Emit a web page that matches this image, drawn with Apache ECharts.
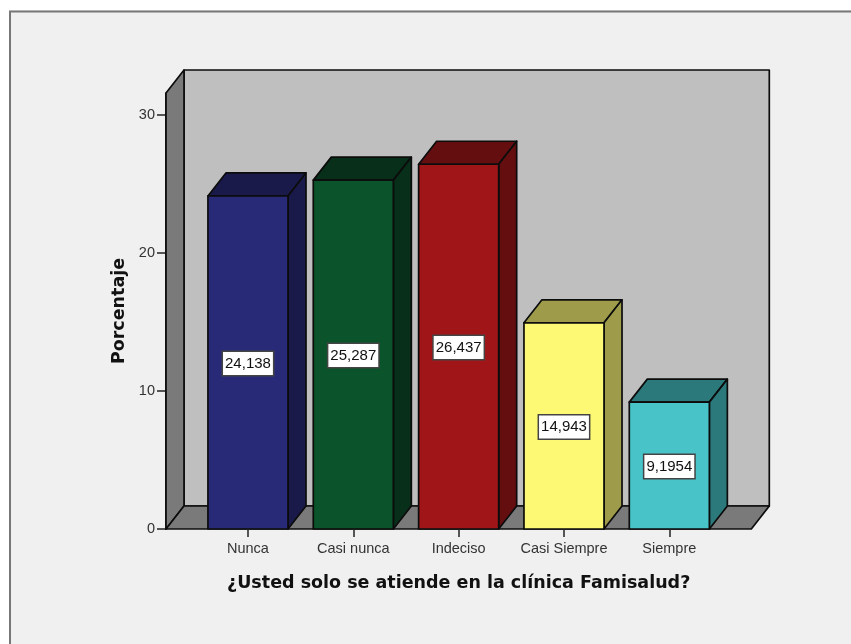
<!DOCTYPE html>
<html>
<head>
<meta charset="utf-8">
<style>html,body{margin:0;padding:0;background:#fff}#chart{width:851px;height:644px}</style>
<script src="https://cdn.jsdelivr.net/npm/echarts@6/dist/echarts.min.js"></script>
</head>
<body>
<div id="chart"></div>
<script>
const categories = ['Nunca', 'Casi nunca', 'Indeciso', 'Casi Siempre', 'Siempre'];
const percentages = [24.138, 25.287, 26.437, 14.943, 9.1954];
const faceColors = ['#292a77', '#0b532b', '#a01518', '#fdf974', '#48c3c8'];
const shadeColors = ['#191a4a', '#072f19', '#640e10', '#9e9c4a', '#2c797c'];
const yTicks = [0, 10, 20, 30];
const yMax = 31.6;

// Projection of the box: how far the rear plane sits from the front plane.
const DEPTH_X = 18;
const DEPTH_Y = -23;
const SIDE_PAD = 29.3;
const EDGE = '#0c0c0c';
const EDGE_W = 1.7;

function poly(points, fill) {
  return { type: 'polygon', shape: { points }, style: { fill, stroke: EDGE, lineWidth: EDGE_W, lineJoin: 'round' } };
}

// Back wall, left wall and floor of the plot box.
function renderBox(params) {
  const c = params.coordSys;
  const l = c.x - SIDE_PAD, r = c.x + c.width + SIDE_PAD, t = c.y, b = c.y + c.height;
  const dx = DEPTH_X, dy = DEPTH_Y;
  return {
    type: 'group',
    children: [
      poly([[l + dx, t + dy], [r + dx, t + dy], [r + dx, b + dy], [l + dx, b + dy]], '#bfbfbf'),
      poly([[l, b], [l + dx, b + dy], [l + dx, t + dy], [l, t]], '#7a7a7a'),
      poly([[l, b], [l + dx, b + dy], [r + dx, b + dy], [r, b]], '#7a7a7a')
    ]
  };
}

// One 3D column: front face, top face, right face and the value tag.
function renderBar(params, api) {
  const i = api.value(0), v = api.value(1);
  const top = api.coord([i, v]);
  const base = api.coord([i, 0]);
  const w = api.size([1, 0])[0] * 0.76;
  const l = top[0] - w / 2, r = top[0] + w / 2, t = top[1], b = base[1];
  const dx = DEPTH_X, dy = DEPTH_Y;
  const label = String(v).replace('.', ',');
  return {
    type: 'group',
    children: [
      poly([[l, t], [l + dx, t + dy], [r + dx, t + dy], [r, t]], shadeColors[i]),
      poly([[r, t], [r + dx, t + dy], [r + dx, b + dy], [r, b]], shadeColors[i]),
      poly([[l, t], [r, t], [r, b], [l, b]], faceColors[i]),
      {
        type: 'text',
        z2: 10,
        style: {
          x: top[0], y: (t + b) / 2 + 1,
          text: label,
          align: 'center', verticalAlign: 'middle',
          fontFamily: '"Liberation Sans", Arial, sans-serif', fontSize: 15,
          fill: '#111',
          backgroundColor: '#fff', borderColor: '#444', borderWidth: 1.5,
          padding: [4, 2, 4, 2]
        }
      }
    ]
  };
}

const chart = echarts.init(document.getElementById('chart'));
chart.setOption({
  animation: false,
  backgroundColor: '#f0f0f0',
  textStyle: { fontFamily: '"Liberation Sans", Arial, sans-serif' },
  graphic: [
    { type: 'rect', silent: true, z: -1, shape: { x: 0, y: 0, width: 851, height: 10 }, style: { fill: '#fff' } },
    { type: 'rect', silent: true, z: -1, shape: { x: 0, y: 0, width: 9, height: 644 }, style: { fill: '#fff' } },
    { type: 'polyline', silent: true, z: -1, shape: { points: [[10, 644], [10, 11.5], [851, 11.5]] }, style: { fill: null, stroke: '#777', lineWidth: 2 } }
  ],
  grid: { left: 195.3, right: 129, top: 93, bottom: 115 },
  xAxis: {
    type: 'category',
    data: categories,
    name: '¿Usted solo se atiende en la clínica Famisalud?',
    nameLocation: 'middle',
    nameGap: 45,
    nameTextStyle: { fontFamily: '"DejaVu Sans", sans-serif', fontWeight: 'bold', fontSize: 17.5, color: '#111' },
    axisLine: { show: false },
    axisTick: { show: true, alignWithLabel: true, length: 8, lineStyle: { color: '#222', width: 1.5 } },
    axisLabel: { color: '#333', fontSize: 14.5, margin: 12, interval: 0 },
    z: 5
  },
  yAxis: {
    type: 'value',
    min: 0,
    max: yMax,
    offset: SIDE_PAD,
    name: 'Porcentaje',
    nameLocation: 'middle',
    nameGap: 38,
    nameTextStyle: { fontFamily: '"DejaVu Sans", sans-serif', fontWeight: 'bold', fontSize: 17.5, color: '#111' },
    splitLine: { show: false },
    axisLine: { show: true, lineStyle: { color: EDGE, width: EDGE_W } },
    axisTick: { show: true, length: 9, customValues: yTicks, lineStyle: { color: '#222', width: 1.5 } },
    axisLabel: { color: '#333', fontSize: 14.5, margin: 11, customValues: yTicks }
  },
  series: [
    { type: 'custom', silent: true, clip: false, z: 1, renderItem: renderBox, data: [[0, 0]], encode: { x: 0, y: 1 } },
    {
      type: 'custom', silent: true, clip: false, z: 2,
      renderItem: renderBar,
      encode: { x: 0, y: 1 },
      data: percentages.map((v, i) => [i, v])
    }
  ]
});
</script>
</body>
</html>
